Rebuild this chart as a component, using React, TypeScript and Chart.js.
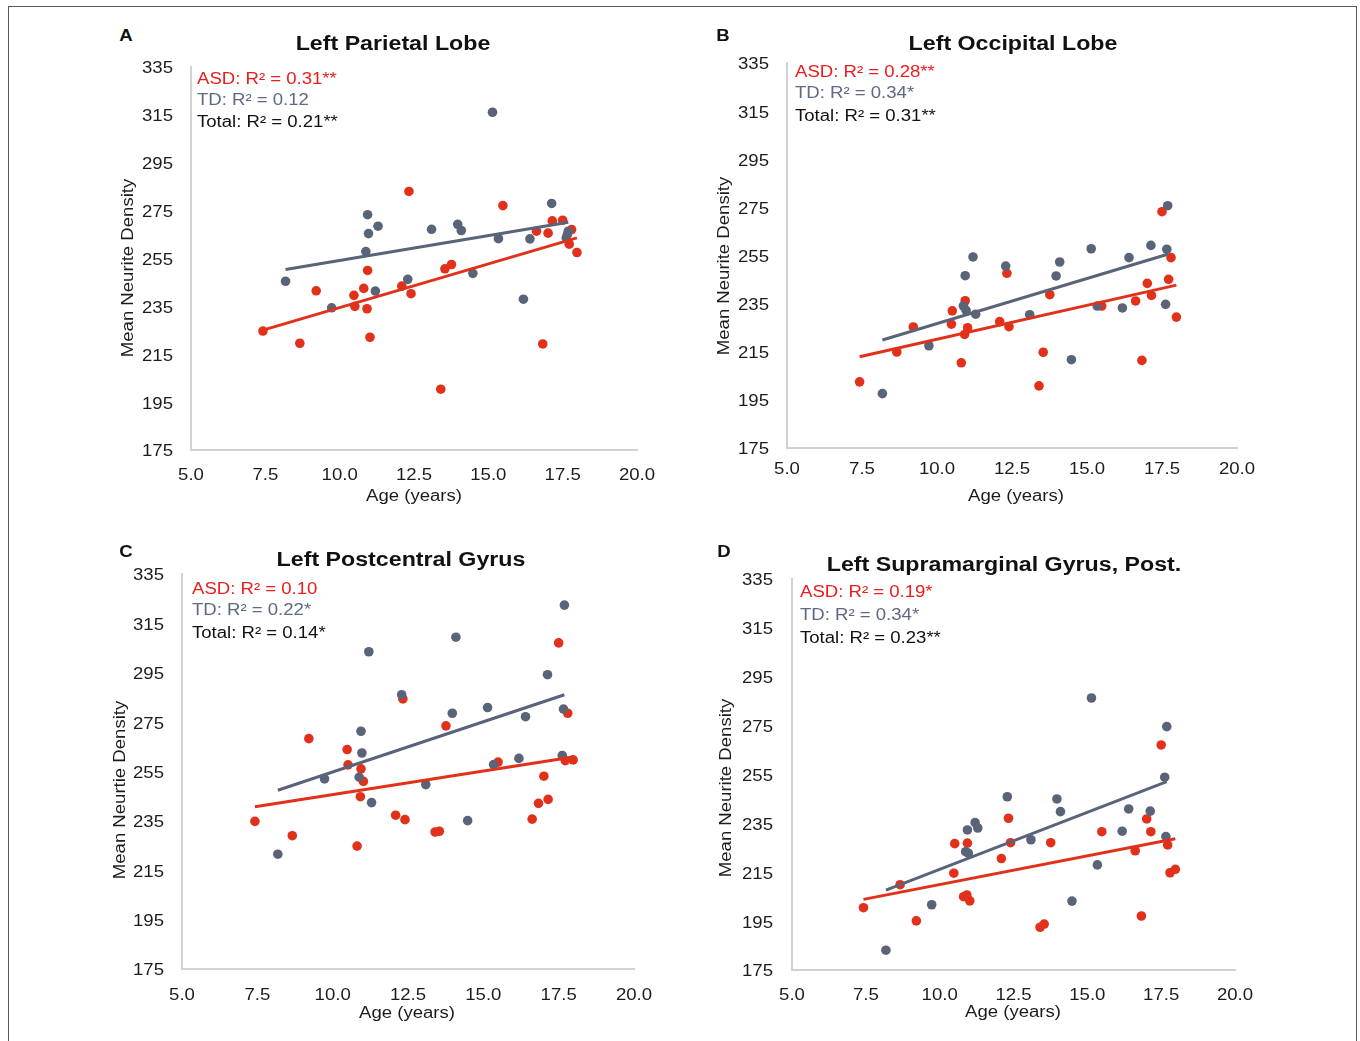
import React, { useEffect, useRef } from 'react';
import { Chart, registerables } from 'chart.js';

Chart.register(...registerables);

// ---------------- data ----------------
// ages of the participants (same subjects in every panel)
const ageASD = [7.42, 8.66, 9.21, 10.48, 10.51, 10.81, 10.92, 10.94, 11.02, 12.09, 12.33, 12.40, 13.40, 13.54, 13.76, 15.49, 16.62, 16.83, 17.01, 17.15, 17.50, 17.72, 17.80, 17.98];
const ageTD = [8.18, 9.73, 10.88, 10.94, 10.97, 11.20, 11.29, 12.29, 13.09, 13.97, 14.09, 14.48, 15.14, 15.34, 16.18, 16.40, 17.13, 17.62, 17.66, 17.69];

// A: Left Parietal Lobe
const parietalASD = [224.7, 219.6, 241.5, 239.6, 235.0, 242.5, 234.0, 250.0, 222.1, 243.5, 283.0, 240.3, 200.4, 250.7, 252.5, 277.1, 266.4, 219.3, 265.6, 270.7, 271.0, 261.0, 267.1, 257.5];
const parietalTD = [245.5, 234.4, 257.9, 273.3, 265.4, 241.4, 268.5, 246.3, 267.2, 269.3, 266.7, 248.8, 316.1, 263.3, 238.0, 263.2, 278.0, 263.6, 265.0, 266.4];
// B: Left Occipital Lobe
const occipitalASD = [202.5, 214.9, 225.3, 226.5, 232.0, 210.4, 222.2, 236.2, 225.0, 227.5, 247.6, 225.4, 200.8, 214.8, 238.7, 234.0, 236.1, 211.4, 243.4, 238.4, 273.2, 245.1, 254.1, 229.4];
const occipitalTD = [197.6, 217.5, 234.1, 246.6, 232.2, 254.4, 230.6, 250.6, 230.4, 246.5, 252.3, 211.7, 257.8, 234.0, 233.2, 254.1, 259.2, 234.7, 257.6, 275.7];
// C: Left Postcentral Gyrus
const postcentralASD = [234.8, 229.0, 268.3, 263.9, 257.7, 224.8, 244.8, 256.1, 251.0, 237.3, 284.4, 235.5, 230.5, 230.8, 273.5, 258.8, 235.7, 242.1, 253.1, 243.7, 307.1, 259.4, 278.6, 259.7];
const postcentralTD = [221.5, 252.0, 252.7, 271.3, 262.5, 303.5, 242.4, 286.1, 249.7, 278.6, 309.4, 235.1, 280.9, 257.8, 260.3, 277.2, 294.2, 261.5, 280.3, 322.4];
// D: Left Supramarginal Gyrus, Post.
const supramarginalASD = [200.5, 209.9, 195.1, 214.6, 226.7, 205.0, 205.7, 226.9, 203.3, 220.6, 237.1, 227.1, 192.5, 193.8, 227.1, 231.6, 223.8, 197.1, 236.8, 231.6, 267.1, 226.2, 214.8, 216.2];
const supramarginalTD = [183.1, 201.7, 223.4, 232.3, 222.8, 235.3, 233.1, 245.9, 228.3, 245.0, 239.8, 203.2, 286.3, 218.0, 231.8, 240.9, 240.0, 253.9, 229.6, 274.6];

// linear trend lines: x at the first/last age, y
const trendAgeASD = [7.42, 17.98];
const trendAgeTD = [8.18, 17.69];
const parietalTrendASD = [225.1, 263.6];
const parietalTrendTD = [250.4, 270.1];
const occipitalTrendASD = [212.9, 242.7];
const occipitalTrendTD = [219.9, 255.5];
const postcentralTrendASD = [240.7, 260.9];
const postcentralTrendTD = [247.4, 286.1];
const supramarginalTrendASD = [203.9, 228.7];
const supramarginalTrendTD = [207.7, 252.1];

// tick labels
const xTickLabels = ['5.0', '7.5', '10.0', '12.5', '15.0', '17.5', '20.0'];
const yTickLabels = ['175', '195', '215', '235', '255', '275', '295', '315', '335'];

// text
const panelLetters = ['A', 'B', 'C', 'D'];
const panelTitles = ['Left Parietal Lobe', 'Left Occipital Lobe', 'Left Postcentral Gyrus', 'Left Supramarginal Gyrus, Post.'];
const yAxisTitles = ['Mean Neurite Density', 'Mean Neurite Density', 'Mean Neurtie Density', 'Mean Neurite Density'];
const xAxisTitle = 'Age (years)';
const statASD = ['ASD: R² = 0.31**', 'ASD: R² = 0.28**', 'ASD: R² = 0.10', 'ASD: R² = 0.19*'];
const statTD = ['TD: R² = 0.12', 'TD: R² = 0.34*', 'TD: R² = 0.22*', 'TD: R² = 0.34*'];
const statTotal = ['Total: R² = 0.21**', 'Total: R² = 0.31**', 'Total: R² = 0.14*', 'Total: R² = 0.23**'];

// ---------------- styling / layout ----------------
const FONT = '"Liberation Sans", Arial, Helvetica, sans-serif';
const STRETCH = 1.16;
const RED = '#e2311a';
const GRAY = '#5a6479';
const RED_TEXT = '#ec1c1c';
const GRAY_TEXT = '#5d6a82';
const AXIS = '#d2d2d2';

const PAD_L = 90, PAD_T = 20, PAD_R = 40, PAD_B = 45;

type Layout = {
  L: number; T: number; R: number; B: number; yGap: number; xGap: number;
  letter: [number, number]; title: [number, number]; stat: [number, number, number, number];
  yTitle: [number, number]; xTitle: [number, number];
};

const layouts: Layout[] = [
  { L: 191, T: 67, R: 637, B: 450, yGap: 18, xGap: 26, letter: [126, 36], title: [393, 43], stat: [197, 79, 100, 122], yTitle: [128, 268], xTitle: [414, 496] },
  { L: 787, T: 63, R: 1237, B: 448, yGap: 18, xGap: 22, letter: [723, 36], title: [1013, 43], stat: [795, 72, 93, 116], yTitle: [724, 266], xTitle: [1016, 496] },
  { L: 182, T: 574, R: 634, B: 969, yGap: 18, xGap: 27, letter: [126, 552], title: [401, 559], stat: [192, 589, 610, 633], yTitle: [120, 790], xTitle: [407, 1013] },
  { L: 792, T: 579, R: 1235, B: 970, yGap: 19, xGap: 26, letter: [724, 552], title: [1004, 564], stat: [800, 592, 615, 638], yTitle: [726, 788], xTitle: [1013, 1012] },
];

type Series = { asd: number[]; td: number[]; trendASD: number[]; trendTD: number[] };
const series: Series[] = [
  { asd: parietalASD, td: parietalTD, trendASD: parietalTrendASD, trendTD: parietalTrendTD },
  { asd: occipitalASD, td: occipitalTD, trendASD: occipitalTrendASD, trendTD: occipitalTrendTD },
  { asd: postcentralASD, td: postcentralTD, trendASD: postcentralTrendASD, trendTD: postcentralTrendTD },
  { asd: supramarginalASD, td: supramarginalTD, trendASD: supramarginalTrendASD, trendTD: supramarginalTrendTD },
];

function makeTickPlugin(yGap: number, xGap: number) {
  return {
    id: 'stretchedTicks',
    afterDraw(chart: any) {
      const { ctx, chartArea, scales } = chart;
      ctx.save();
      ctx.font = `16px ${FONT}`;
      ctx.fillStyle = '#1c1c1c';
      ctx.textBaseline = 'middle';
      const ys = scales.y;
      ys.ticks.forEach((t: any, i: number) => {
        ctx.save();
        ctx.translate(chartArea.left - yGap, ys.getPixelForTick(i) + 2);
        ctx.scale(STRETCH, 1);
        ctx.textAlign = 'right';
        ctx.fillText(String(t.label), 0, 0);
        ctx.restore();
      });
      const xs = scales.x;
      xs.ticks.forEach((t: any, i: number) => {
        ctx.save();
        ctx.translate(xs.getPixelForTick(i), chartArea.bottom + xGap);
        ctx.scale(STRETCH, 1);
        ctx.textAlign = 'center';
        ctx.fillText(String(t.label), 0, 0);
        ctx.restore();
      });
      ctx.restore();
    },
  };
}

function Panel({ lay, s }: { lay: Layout; s: Series }) {
  const ref = useRef<HTMLCanvasElement>(null);
  const w = lay.R - lay.L + PAD_L + PAD_R;
  const h = lay.B - lay.T + PAD_T + PAD_B;

  useEffect(() => {
    const toPts = (xs: number[], ys: number[]) => xs.map((x, i) => ({ x, y: ys[i] }));
    const chart = new Chart(ref.current as HTMLCanvasElement, {
      type: 'scatter',
      data: {
        datasets: [
          {
            type: 'line', label: 'TD trend', data: toPts(trendAgeTD, s.trendTD),
            borderColor: GRAY, borderWidth: 3, pointRadius: 0, pointHoverRadius: 0, fill: false, tension: 0, order: 0,
          } as any,
          {
            type: 'line', label: 'ASD trend', data: toPts(trendAgeASD, s.trendASD),
            borderColor: RED, borderWidth: 3, pointRadius: 0, pointHoverRadius: 0, fill: false, tension: 0, order: 1,
          } as any,
          {
            label: 'TD', data: toPts(ageTD, s.td), backgroundColor: GRAY, borderWidth: 0,
            pointRadius: 4.8, pointHoverRadius: 4.8, order: 2,
          },
          {
            label: 'ASD', data: toPts(ageASD, s.asd), backgroundColor: RED, borderWidth: 0,
            pointRadius: 4.8, pointHoverRadius: 4.8, order: 3,
          },
        ],
      },
      options: {
        animation: false,
        responsive: false,
        devicePixelRatio: 1,
        events: [],
        layout: { padding: { top: PAD_T, right: PAD_R, left: 0, bottom: 0 } },
        plugins: { legend: { display: false }, tooltip: { enabled: false }, title: { display: false } },
        scales: {
          x: {
            type: 'linear', min: 5, max: 20,
            ticks: { display: false, stepSize: 2.5, callback: (_v: any, i: number) => xTickLabels[i] },
            grid: { display: false, drawTicks: false },
            border: { display: true, color: AXIS, width: 2 },
            afterFit: (sc: any) => { sc.height = PAD_B; },
          },
          y: {
            type: 'linear', min: 175, max: 335,
            ticks: { display: false, stepSize: 20, callback: (_v: any, i: number) => yTickLabels[i] },
            grid: { display: false, drawTicks: false },
            border: { display: true, color: AXIS, width: 2 },
            afterFit: (sc: any) => { sc.width = PAD_L; },
          },
        } as any,
      },
      plugins: [makeTickPlugin(lay.yGap, lay.xGap)],
    });
    return () => chart.destroy();
  }, []);

  return (
    <canvas
      ref={ref}
      width={w}
      height={h}
      style={{ position: 'absolute', left: lay.L - PAD_L, top: lay.T - PAD_T, width: w, height: h }}
    />
  );
}

const txt = (extra: React.CSSProperties): React.CSSProperties => ({
  position: 'absolute', whiteSpace: 'nowrap', fontFamily: FONT, lineHeight: 1, ...extra,
});

export default function App() {
  return (
    <div style={{ position: 'fixed', left: 0, top: 0, width: 1360, height: 1041, overflow: 'hidden', background: '#fff' }}>
      <div style={{ position: 'absolute', left: 8, top: 6, width: 1349, height: 1100, border: '1px solid #5a5a5a', boxSizing: 'border-box' }} />
      {layouts.map((lay, i) => (
        <Panel key={'p' + i} lay={lay} s={series[i]} />
      ))}
      {layouts.map((lay, i) => (
        <React.Fragment key={'t' + i}>
          <div style={txt({ left: lay.letter[0], top: lay.letter[1], fontSize: 16, fontWeight: 700, color: '#111', transform: `translate(-50%,-50%) scaleX(${STRETCH})` })}>{panelLetters[i]}</div>
          <div style={txt({ left: lay.title[0], top: lay.title[1], fontSize: 20, fontWeight: 700, color: '#111', transform: `translate(-50%,-50%) scaleX(${STRETCH})` })}>{panelTitles[i]}</div>
          <div style={txt({ left: lay.stat[0], top: lay.stat[1], fontSize: 16, color: RED_TEXT, transformOrigin: 'left center', transform: `translateY(-50%) scaleX(${STRETCH})` })}>{statASD[i]}</div>
          <div style={txt({ left: lay.stat[0], top: lay.stat[2], fontSize: 16, color: GRAY_TEXT, transformOrigin: 'left center', transform: `translateY(-50%) scaleX(${STRETCH})` })}>{statTD[i]}</div>
          <div style={txt({ left: lay.stat[0], top: lay.stat[3], fontSize: 16, color: '#111', transformOrigin: 'left center', transform: `translateY(-50%) scaleX(${STRETCH})` })}>{statTotal[i]}</div>
          <div style={txt({ left: lay.yTitle[0], top: lay.yTitle[1], fontSize: 16, color: '#1c1c1c', transform: `translate(-50%,-50%) rotate(-90deg) scaleX(${STRETCH})` })}>{yAxisTitles[i]}</div>
          <div style={txt({ left: lay.xTitle[0], top: lay.xTitle[1], fontSize: 16, color: '#1c1c1c', transform: `translate(-50%,-50%) scaleX(${STRETCH})` })}>{xAxisTitle}</div>
        </React.Fragment>
      ))}
    </div>
  );
}
